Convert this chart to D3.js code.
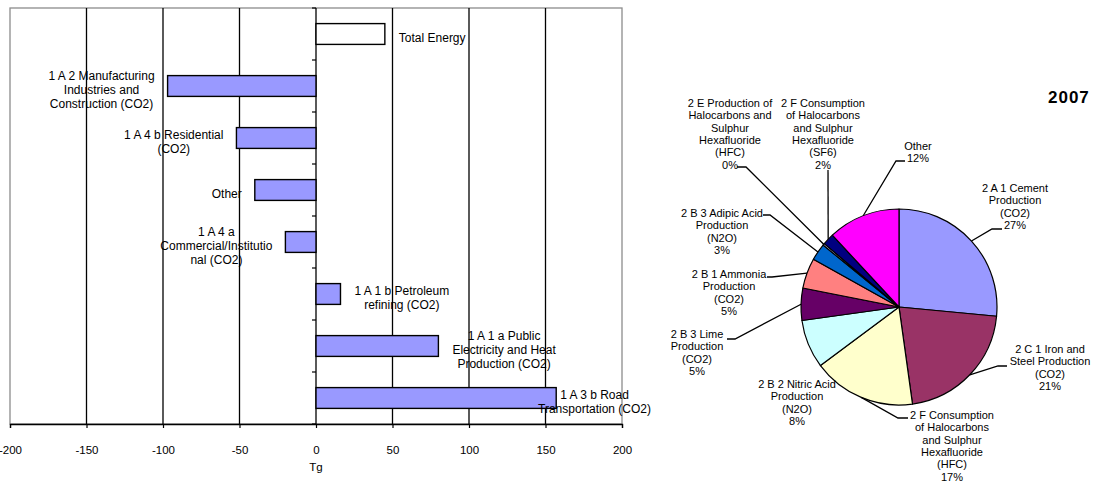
<!DOCTYPE html>
<html><head><meta charset="utf-8">
<script src="https://cdn.jsdelivr.net/npm/d3@7"></script>
<style>
body{margin:0;background:#fff}
svg{display:block}
text{font-family:"Liberation Sans",Arial,sans-serif;fill:#000}
</style>
</head><body>
<svg id="c" width="1093" height="482"></svg>
<script>
// ---------- data ----------
const barCategories = [
  "Total Energy",
  "1 A 2 Manufacturing|Industries and|Construction (CO2)",
  "1 A 4 b Residential|(CO2)",
  "Other",
  "1 A 4 a|Commercial/Institutio|nal (CO2)",
  "1 A 1 b Petroleum|refining (CO2)",
  "1 A 1 a Public|Electricity and Heat|Production (CO2)",
  "1 A 3 b Road|Transportation (CO2)"
];
const barValues = [45, -97, -52, -40, -20, 16, 80, 157];
const barHollow = [true, false, false, false, false, false, false, false];
const xTicks = [-200, -150, -100, -50, 0, 50, 100, 150, 200];
const xAxisTitle = "Tg";

const pieCategories = [
  "2 A 1 Cement|Production|(CO2)",
  "2 C 1 Iron and|Steel Production|(CO2)",
  "2 F Consumption|of Halocarbons|and Sulphur|Hexafluoride|(HFC)",
  "2 B 2 Nitric Acid|Production|(N2O)",
  "2 B 3 Lime|Production|(CO2)",
  "2 B 1 Ammonia|Production|(CO2)",
  "2 B 3 Adipic Acid|Production|(N2O)",
  "2 E Production of|Halocarbons and|Sulphur|Hexafluoride|(HFC)",
  "2 F Consumption|of Halocarbons|and Sulphur|Hexafluoride|(SF6)",
  "Other"
];
const pieValues = [26.5, 21.3, 17.0, 8.0, 5.3, 5.0, 2.8, 0.3, 1.9, 11.9];
const pieColors = ["#9999FF","#993366","#FFFFCC","#CCFFFF","#660066","#FF8080","#0066CC","#CCCCFF","#000080","#FF00FF"];
const pieTitle = "2007";

// ---------- layout (positions only) ----------
const pieLabelLayout = [
  {cx:1015, y:188, elbow:[992,229], end:[1002,229]},
  {cx:1050, y:349, elbow:[998,366], end:[1007,366]},
  {cx:952,  y:415, elbow:[898,418], end:[908,418]},
  {cx:797,  y:384, elbow:null},
  {cx:697,  y:334, elbow:[735,339], end:[727,339]},
  {cx:729,  y:274, elbow:[772,277], end:[767,277]},
  {cx:722,  y:213, elbow:[770,215], end:[763,215]},
  {cx:730,  y:103, elbow:[746,167], end:[737,167]},
  {cx:823,  y:103, elbow:[828,170], end:[828,170]},
  {cx:918,  y:146, elbow:[896,161], end:[905,161]}
];

const svg = d3.select("#c");

// ---------- bar chart ----------
const L = 10, R = 622, T = 8, B = 424;
const x = d3.scaleLinear().domain([-200, 200]).range([L, R]);
const y = d3.scaleBand().domain(barCategories).range([T, B]).paddingInner(0.6).paddingOuter(0.3);

svg.append("rect").attr("x", L).attr("y", T).attr("width", R - L).attr("height", B - T)
  .attr("fill", "none").attr("stroke", "#8c8c8c").attr("stroke-width", 1.3);

svg.append("g").selectAll("line").data(xTicks.filter(d => d !== 0 && d !== -200 && d !== 200))
  .join("line")
  .attr("x1", d => x(d)).attr("x2", d => x(d)).attr("y1", T).attr("y2", B)
  .attr("stroke", "#000").attr("stroke-width", 1.3);

const xAxis = svg.append("g").attr("transform", `translate(0,${B})`)
  .call(d3.axisBottom(x).tickValues(xTicks).tickSize(4).tickPadding(18).tickFormat(d => String(d)));
xAxis.select(".domain").attr("stroke", "#000").attr("stroke-width", 1.3);
xAxis.selectAll(".tick line").attr("stroke", "#000").attr("stroke-width", 1.2);
xAxis.selectAll(".tick text").attr("font-size", "11.5px").attr("font-family", "Liberation Sans, Arial, sans-serif").attr("fill", "#000");
svg.append("text").attr("x", x(0)).attr("y", 471).attr("text-anchor", "middle").attr("font-size", "11.5px").text(xAxisTitle);

svg.append("line").attr("x1", x(0)).attr("x2", x(0)).attr("y1", T).attr("y2", B).attr("stroke", "#000").attr("stroke-width", 1.3);
svg.append("g").selectAll("line").data(d3.range(barCategories.length + 1))
  .join("line")
  .attr("x1", x(0) - 4).attr("x2", x(0))
  .attr("y1", i => T + i * y.step()).attr("y2", i => T + i * y.step())
  .attr("stroke", "#000").attr("stroke-width", 1.2);

svg.append("g").selectAll("rect").data(barValues)
  .join("rect")
  .attr("x", d => x(Math.min(0, d)))
  .attr("width", d => Math.abs(x(d) - x(0)))
  .attr("y", (d, i) => y(barCategories[i]))
  .attr("height", y.bandwidth())
  .attr("fill", (d, i) => barHollow[i] ? "#fff" : "#9999FF")
  .attr("stroke", "#000").attr("stroke-width", 1.4);

const lh = 14;
barValues.forEach((v, i) => {
  const lines = barCategories[i].split("|");
  const cy = y(barCategories[i]) + y.bandwidth() / 2 + 3.5;
  const t = svg.append("text").attr("font-size", "12px").attr("text-anchor", "middle");
  lines.forEach((ln, k) => {
    t.append("tspan").attr("y", cy - (lines.length - 1) * lh / 2 + k * lh + 4.3).text(ln);
  });
  let maxW = 0;
  t.selectAll("tspan").each(function () { maxW = Math.max(maxW, this.getComputedTextLength()); });
  let cx;
  if (v < 0) cx = x(v) - 13 - maxW / 2;
  else {
    cx = x(v) + 14 + maxW / 2;
    if (cx + maxW / 2 > 651) cx = 651 - maxW / 2;
  }
  t.selectAll("tspan").attr("x", cx);
});

// ---------- pie chart ----------
const pcx = 899, pcy = 307, pr = 98;
const pie = d3.pie().sort(null).value(d => d)(pieValues);
const arc = d3.arc().innerRadius(0).outerRadius(pr);
const pg = svg.append("g").attr("transform", `translate(${pcx},${pcy})`);
pg.selectAll("path").data(pie).join("path")
  .attr("d", arc)
  .attr("fill", (d, i) => pieColors[i])
  .attr("stroke", "#000").attr("stroke-width", 1.2).attr("stroke-linejoin", "round");

const pfmt = v => Math.round(v) + "%";
const plh = 12.3;
pie.forEach((d, i) => {
  const lay = pieLabelLayout[i];
  const lines = pieCategories[i].split("|").concat([pfmt(pieValues[i])]);
  const t = svg.append("text").attr("font-size", "11px").attr("text-anchor", "middle");
  lines.forEach((ln, k) => {
    t.append("tspan").attr("x", lay.cx).attr("y", lay.y + k * plh + 4).text(ln);
  });
  if (lay.elbow) {
    const a = (d.startAngle + d.endAngle) / 2;
    const p0 = [pcx + pr * Math.sin(a), pcy - pr * Math.cos(a)];
    svg.append("polyline")
      .attr("points", [p0, lay.elbow, lay.end].map(p => p.join(",")).join(" "))
      .attr("fill", "none").attr("stroke", "#000").attr("stroke-width", 1.3);
  }
});

svg.append("text").attr("x", 1048).attr("y", 103).attr("font-size", "17px").attr("font-weight", "bold")
  .attr("letter-spacing", "1px").text(pieTitle);
</script>
</body></html>
